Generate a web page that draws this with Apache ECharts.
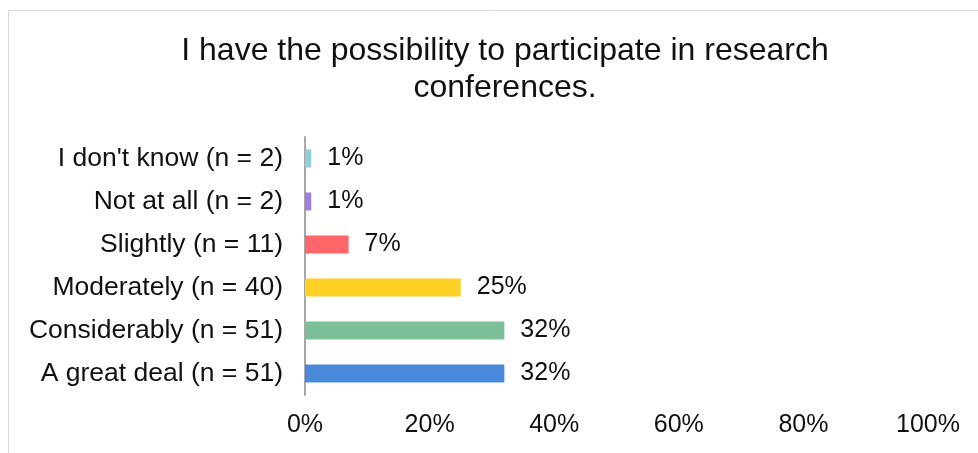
<!DOCTYPE html>
<html><head><meta charset="utf-8">
<script src="https://cdn.jsdelivr.net/npm/echarts@6/dist/echarts.min.js"></script>
<style>html,body{margin:0;padding:0;background:#fff}#c{width:978px;height:453px}</style>
</head><body><div id="c"></div>
<script>
const categories = ["I don't know (n = 2)", "Not at all (n = 2)", "Slightly (n = 11)", "Moderately (n = 40)", "Considerably (n = 51)", "A great deal (n = 51)"];
const values = [1, 1, 7, 25, 32, 32];
const barColors = ["#92CDDC", "#9F7FE3", "#FF6669", "#FDD023", "#7DBF99", "#4A88D9"];
const xTicks = [0, 20, 40, 60, 80, 100];
const titleText = "I have the possibility to participate in research\nconferences.";

const chart = echarts.init(document.getElementById('c'), null, {renderer: 'canvas'});
const FONT = "'Liberation Sans', Arial, sans-serif";
chart.setOption({
  animation: false,
  graphic: [{type: 'rect', shape: {x: 8.5, y: 10.5, width: 1000, height: 500}, style: {fill: 'none', stroke: '#d9d9d9', lineWidth: 1}, silent: true}],
  title: {
    text: titleText, left: 500, top: 28, textAlign: 'center',
    textStyle: {fontFamily: FONT, fontSize: 32, fontWeight: 'normal', color: '#111', lineHeight: 37}
  },
  grid: {left: 305, right: 50, top: 137, bottom: 58, containLabel: false},
  xAxis: {
    type: 'value', min: 0, max: 100, interval: 20,
    axisLine: {show: false}, axisTick: {show: false}, splitLine: {show: false},
    axisLabel: {fontFamily: FONT, fontSize: 25, color: '#111', margin: 18,
      formatter: v => xTicks.includes(v) ? v + '%' : ''}
  },
  yAxis: {
    type: 'category', data: categories, inverse: true,
    axisLine: {show: true, lineStyle: {color: '#a6a6a6', width: 2}},
    axisTick: {show: false},
    axisLabel: {fontFamily: FONT, fontSize: 26.5, color: '#111', margin: 22}
  },
  series: [{
    type: 'bar', barWidth: 18,
    data: values.map((v, i) => ({value: v, itemStyle: {color: barColors[i]}})),
    label: {show: true, position: 'right', distance: 16, formatter: p => p.value + '%',
      fontFamily: FONT, fontSize: 25, color: '#111'}
  }]
});
</script></body></html>
